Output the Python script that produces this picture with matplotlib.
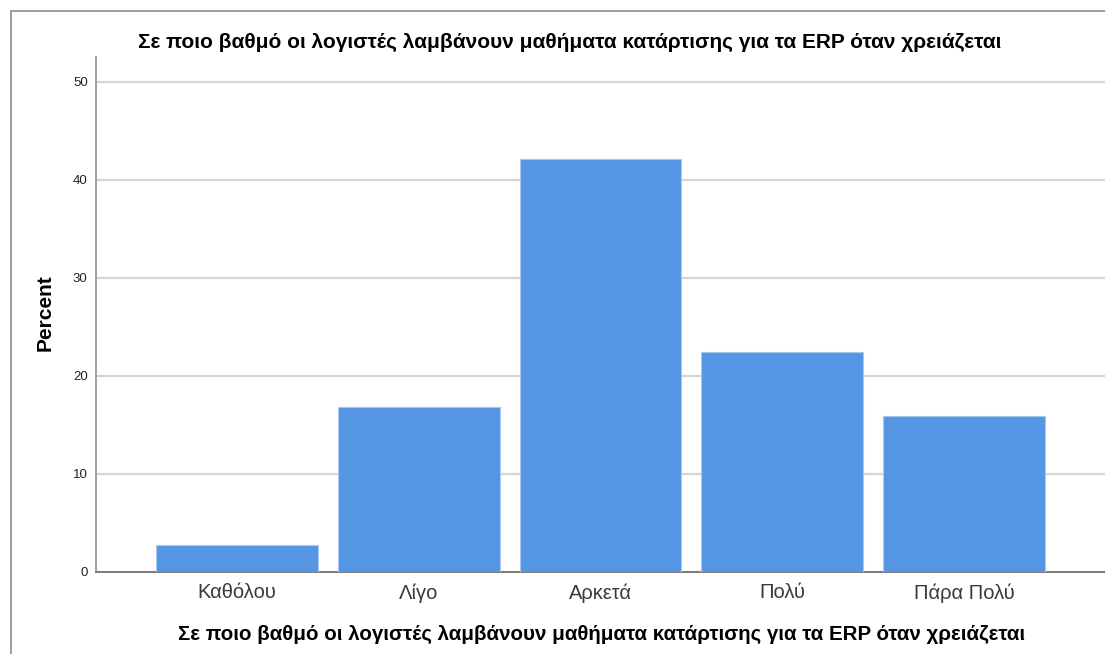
import matplotlib.pyplot as plt
from matplotlib.patches import Rectangle

categories = ["Καθόλου", "Λίγο", "Αρκετά", "Πολύ", "Πάρα Πολύ"]
percent = [2.8, 16.8, 42.1, 22.4, 15.9]
yticks = [0, 10, 20, 30, 40, 50]
title = "Σε ποιο βαθμό οι λογιστές λαμβάνουν μαθήματα κατάρτισης για τα ERP όταν χρειάζεται"

plt.rcParams['font.family'] = ['Liberation Sans', 'DejaVu Sans']

W, H = 1105, 654
fig = plt.figure(figsize=(W / 100, H / 100), dpi=100)

# outer frame (left/top edges visible, rest cropped)
fig.patches.append(Rectangle((11 / W, -0.1), 1.2, (H - 11) / H + 0.1, transform=fig.transFigure,
                             fill=False, edgecolor="#8c8c8c", linewidth=1.2))

ax = fig.add_axes([96 / W, (H - 572) / H, 1 - 96 / W, (572 - 57) / H])
x = range(len(categories))
ax.bar(x, percent, width=0.89, color="#5596e4", edgecolor="#a9c8f0", linewidth=0.8, zorder=3)

ax.set_xlim(-0.775, 4.775)
ax.set_ylim(0, 52.55)
ax.set_yticks(yticks)
ax.set_xticks(list(x))
ax.set_xticklabels(categories, fontsize=14.5, color="#3a3a3a")
ax.tick_params(axis="y", length=0, pad=6, labelsize=9.5, labelcolor="#222222")
ax.tick_params(axis="x", length=0, pad=8)
ax.yaxis.grid(True, color="#d4d4d4", linewidth=1.6, zorder=0)

for s in ["top", "right"]:
    ax.spines[s].set_visible(False)
ax.spines["left"].set_color("#a0a0a0")
ax.spines["left"].set_linewidth(1.4)
ax.spines["bottom"].set_color("#7a7a7a")
ax.spines["bottom"].set_linewidth(1.4)

fig.text(570 / W, 1 - 42 / H, title, ha="center", va="center", fontsize=15, fontweight="bold")
fig.text(602 / W, 1 - 634 / H, title, ha="center", va="center", fontsize=14.8, fontweight="bold")
fig.text(45 / W, 1 - 313 / H, "Percent", ha="center", va="center", rotation=90,
         fontsize=15, fontweight="bold")

fig.savefig("out.png", dpi=100)
